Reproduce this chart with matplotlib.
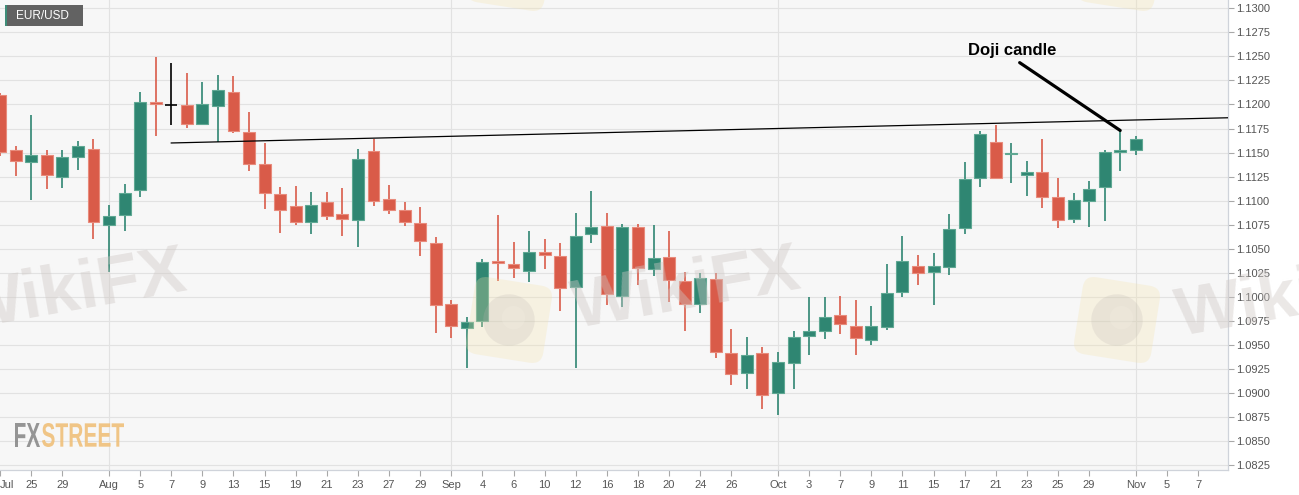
import matplotlib
matplotlib.use("Agg")
import matplotlib.pyplot as plt
from matplotlib.patches import FancyBboxPatch, Circle, Rectangle, PathPatch
from matplotlib.transforms import Affine2D, IdentityTransform
from matplotlib.textpath import TextPath
from matplotlib.font_manager import FontProperties
import numpy as np
import pandas as pd

plt.rcParams['font.family'] = ['Liberation Sans', 'DejaVu Sans']

# EUR/USD daily candles, Jul 23 - Nov 1 2019 (axis runs on to Nov 7)
days = pd.bdate_range("2019-07-23", "2019-11-07")

opens = [1.1210, 1.1153, 1.1140, 1.1147, 1.1125, 1.1145, 1.1154, 1.1075, 1.1085, 1.1111,
         1.1203, 1.1199, 1.1199, 1.1180, 1.1198, 1.1213, 1.1171, 1.1138, 1.1107, 1.1094,
         1.1078, 1.1099, 1.1086, 1.1080, 1.1152, 1.1102, 1.1090, 1.1077, 1.1056, 1.0993,
         1.0968, 1.0975, 1.1037, 1.1034, 1.1027, 1.1047, 1.1043, 1.1010, 1.1065, 1.1074,
         1.1001, 1.1073, 1.1029, 1.1041, 1.1017, 1.0993, 1.1019, 1.0942, 1.0921, 1.0942,
         1.0900, 1.0931, 1.0959, 1.0965, 1.0981, 1.0970, 1.0955, 1.0969, 1.1005, 1.1032,
         1.1026, 1.1031, 1.1072, 1.1124, 1.1161, 1.1149, 1.1127, 1.1130, 1.1104, 1.1081,
         1.1100, 1.1114, 1.1151, 1.1153]
highs = [1.1212, 1.1157, 1.1189, 1.1153, 1.1153, 1.1162, 1.1164, 1.1096, 1.1117, 1.1213,
         1.1249, 1.1243, 1.1233, 1.1223, 1.1231, 1.1230, 1.1192, 1.1160, 1.1114, 1.1115,
         1.1109, 1.1109, 1.1113, 1.1154, 1.1164, 1.1116, 1.1099, 1.1093, 1.1062, 1.0997,
         1.0979, 1.1039, 1.1085, 1.1057, 1.1068, 1.1060, 1.1056, 1.1087, 1.1110, 1.1087,
         1.1076, 1.1076, 1.1075, 1.1068, 1.1026, 1.1025, 1.1025, 1.0967, 1.0958, 1.0948,
         1.0943, 1.0965, 1.1000, 1.1000, 1.1001, 1.0997, 1.0991, 1.1034, 1.1063, 1.1044,
         1.1046, 1.1086, 1.1140, 1.1172, 1.1179, 1.1160, 1.1141, 1.1164, 1.1124, 1.1108,
         1.1120, 1.1153, 1.1173, 1.1167]
lows = [1.1146, 1.1126, 1.1101, 1.1112, 1.1113, 1.1132, 1.1060, 1.1026, 1.1069, 1.1104,
        1.1167, 1.1179, 1.1176, 1.1180, 1.1161, 1.1170, 1.1131, 1.1091, 1.1066, 1.1075,
        1.1065, 1.1080, 1.1063, 1.1052, 1.1094, 1.1086, 1.1074, 1.1043, 1.0962, 1.0957,
        1.0926, 1.0969, 1.1017, 1.1020, 1.1015, 1.1029, 1.0985, 1.0926, 1.1056, 1.0992,
        1.0990, 1.1012, 1.1022, 1.0995, 1.0965, 1.0983, 1.0937, 1.0908, 1.0904, 1.0884,
        1.0877, 1.0904, 1.0940, 1.0956, 1.0961, 1.0940, 1.0950, 1.0966, 1.1000, 1.1012,
        1.0992, 1.1023, 1.1065, 1.1114, 1.1138, 1.1118, 1.1105, 1.1092, 1.1072, 1.1077,
        1.1073, 1.1079, 1.1131, 1.1148]
closes = [1.1151, 1.1141, 1.1147, 1.1127, 1.1145, 1.1157, 1.1078, 1.1084, 1.1108, 1.1203,
          1.1201, 1.1199, 1.1180, 1.1201, 1.1215, 1.1172, 1.1138, 1.1108, 1.1090, 1.1078,
          1.1096, 1.1084, 1.1081, 1.1143, 1.1100, 1.1090, 1.1078, 1.1058, 1.0992, 1.0970,
          1.0974, 1.1036, 1.1035, 1.1030, 1.1047, 1.1044, 1.1009, 1.1063, 1.1073, 1.1003,
          1.1073, 1.1030, 1.1040, 1.1018, 1.0993, 1.1020, 1.0943, 1.0920, 1.0940, 1.0898,
          1.0932, 1.0958, 1.0965, 1.0979, 1.0972, 1.0957, 1.0970, 1.1004, 1.1037, 1.1025,
          1.1032, 1.1071, 1.1123, 1.1169, 1.1124, 1.1149, 1.1130, 1.1104, 1.1080, 1.1101,
          1.1112, 1.1151, 1.1153, 1.1164]
black_doji = ["2019-08-07"]

tick_dates = ["2019-07-23", "2019-07-25", "2019-07-29", "2019-08-01", "2019-08-05",
              "2019-08-07", "2019-08-09", "2019-08-13", "2019-08-15", "2019-08-19",
              "2019-08-21", "2019-08-23", "2019-08-27", "2019-08-29", "2019-09-02",
              "2019-09-04", "2019-09-06", "2019-09-10", "2019-09-12", "2019-09-16",
              "2019-09-18", "2019-09-20", "2019-09-24", "2019-09-26", "2019-10-01",
              "2019-10-03", "2019-10-07", "2019-10-09", "2019-10-11", "2019-10-15",
              "2019-10-17", "2019-10-21", "2019-10-23", "2019-10-25", "2019-10-29",
              "2019-11-01", "2019-11-05", "2019-11-07"]
tick_labels = ["Jul", "25", "29", "Aug", "5", "7", "9", "13", "15", "19", "21", "23", "27",
               "29", "Sep", "4", "6", "10", "12", "16", "18", "20", "24", "26", "Oct", "3",
               "7", "9", "11", "15", "17", "21", "23", "25", "29", "Nov", "5", "7"]
month_dates = ["2019-08-01", "2019-09-02", "2019-10-01", "2019-11-01"]

# hand drawn resistance line (bar number, price)
trend_x = [11, 78.4]
trend_y = [1.1160, 1.1186]

doji_note = "Doji candle"
doji_date = "2019-10-31"

GREEN = '#2f8672'
GREEN_EDGE = '#5fa893'
RED = '#d95b49'
RED_EDGE = '#e88b7c'

W, H = 1299, 495
fig = plt.figure(figsize=(W / 100, H / 100), dpi=100, facecolor='white')
ax = fig.add_axes([0, 25 / H, 1228 / W, 470 / H])
ax.set_facecolor('#f7f7f7')

o, h, l, c = (np.array(v) for v in (opens, highs, lows, closes))
x = np.arange(len(o))
day_str = days[:len(o)].strftime('%Y-%m-%d')
is_black = np.isin(day_str, black_doji)
up = c >= o
face = np.where(up, GREEN, RED).astype(object)
edge = np.where(up, GREEN_EDGE, RED_EDGE).astype(object)
face[is_black] = 'black'

ax.vlines(x, l, h, colors=list(face), lw=1.2, zorder=3)
body_h = np.maximum(np.abs(c - o), 0.00017)
body_lo = (o + c) / 2 - body_h / 2
m = ~is_black
ax.bar(x[m], body_h[m], bottom=body_lo[m], width=0.77, color=list(face[m]),
       edgecolor=list(edge[m]), linewidth=0.8, zorder=4)
ax.hlines(o[is_black], x[is_black] - 0.38, x[is_black] + 0.38, colors='black', lw=1.2, zorder=4)

# limits
x_right = 78.93
ax.set_xlim(-0.01, x_right)
ax.set_ylim(1.08201, 1.13086)

# trend line, extended to the right edge
slope = (trend_y[1] - trend_y[0]) / (trend_x[1] - trend_x[0])
ax.plot([trend_x[0], x_right], [trend_y[0], trend_y[0] + slope * (x_right - trend_x[0])],
        color='black', lw=0.9, zorder=5)

# grid
yt = np.arange(1.0825, 1.13001, 0.0025)
for v in yt:
    ax.axhline(v, color='#e2e2e2', lw=0.8, zorder=1)
for d in days.get_indexer(pd.to_datetime(month_dates)):
    ax.axvline(d, color='#e2e2e2', lw=0.8, zorder=1)

# axes
ax.yaxis.tick_right()
ax.set_yticks(yt)
ax.set_yticklabels([f"{v:.4f}" for v in yt])
ax.set_xticks(days.get_indexer(pd.to_datetime(tick_dates)))
ax.set_xticklabels(tick_labels)
ax.get_xticklabels()[0].set_ha('left')
ax.tick_params(axis='both', colors='#a8a8a8', labelcolor='#555555', labelsize=8, length=4, width=0.8)
ax.tick_params(axis='y', pad=2)
ax.tick_params(axis='x', pad=3)
for s in ['top', 'left']:
    ax.spines[s].set_visible(False)
for s in ['right', 'bottom']:
    ax.spines[s].set_color('#cfd3da')
    ax.spines[s].set_linewidth(0.9)

# doji annotation
di = days.get_loc(pd.Timestamp(doji_date))
ax.annotate(doji_note, xy=(di, h[di]), xytext=(65.05, 1.12566), textcoords='data',
            ha='center', va='center', fontsize=12, fontweight='bold', color='black',
            arrowprops=dict(arrowstyle='-', lw=2.3, color='black', shrinkA=3, shrinkB=0,
                            relpos=(0.5, 0)), zorder=6)

# ---- overlays in pixel space (y measured from top) ----
ident = IdentityTransform()


def pix(px, py):
    return px, H - py


# EUR/USD tag
bx, by = pix(5, 25.7)
fig.add_artist(Rectangle((bx, by), 78, 20.7, transform=ident, facecolor='#626262', edgecolor='none', zorder=5))
fig.add_artist(Rectangle((bx, by), 1.6, 20.7, transform=ident, facecolor='#3e8d78', edgecolor='none', zorder=6))
tx, ty = pix(16, 15.8)
fig.text(tx / W, ty / H, "EUR/USD", color='white', fontsize=8.5, va='center', ha='left', zorder=7)


# watermark logos
def logo(cx, cy, size=78, rot=-9):
    X, Y = pix(cx, cy)
    tr = Affine2D().rotate_deg_around(X, Y, rot) + ident
    fig.add_artist(FancyBboxPatch((X - size / 2, Y - size / 2), size, size,
                                  boxstyle="round,pad=0,rounding_size=12", transform=tr,
                                  facecolor='#f4e2aa', edgecolor='none', alpha=0.28, zorder=8))
    fig.add_artist(Circle((X, Y), size * 0.33, transform=tr, facecolor='#bdb5b2',
                          edgecolor='none', alpha=0.22, zorder=9))
    fig.add_artist(Circle((X + 4, Y + 3), size * 0.15, transform=tr, facecolor='#f3eee2',
                          edgecolor='none', alpha=0.3, zorder=9))


def wiki(cx, cy):
    X, Y = pix(cx, cy)
    fig.text(X / W, Y / H, "WikiFX", fontsize=50, fontweight='bold', color='#cfc8c5',
             alpha=0.42, rotation=10, rotation_mode='anchor', ha='center', va='center', zorder=10)


logo(509, 320)
logo(1117, 320)
logo(510, -32)
logo(1120, -32)
wiki(72, 292)
wiki(686, 290)
wiki(1290, 298)

# FXSTREET logo, squeezed to the condensed look of the original
fp = FontProperties(family=['Liberation Sans Narrow', 'Liberation Sans'], weight='bold')


def squeezed(txt, left, right, top, bottom, color):
    tp = TextPath((0, 0), txt, size=40, prop=fp)
    ext = tp.get_extents()
    sx = (right - left) / ext.width
    sy = (bottom - top) / ext.height
    X0, Y0 = pix(left, bottom)
    tr = Affine2D().translate(-ext.x0, -ext.y0).scale(sx, sy).translate(X0, Y0) + ident
    fig.add_artist(PathPatch(tp, transform=tr, facecolor=color, edgecolor='none', alpha=0.9, zorder=11))


squeezed("FX", 15, 40, 423, 447, '#8a8a8a')
squeezed("STREET", 42, 124, 423, 447, '#f0c07a')

fig.savefig("out.png", dpi=100, facecolor=fig.get_facecolor())
